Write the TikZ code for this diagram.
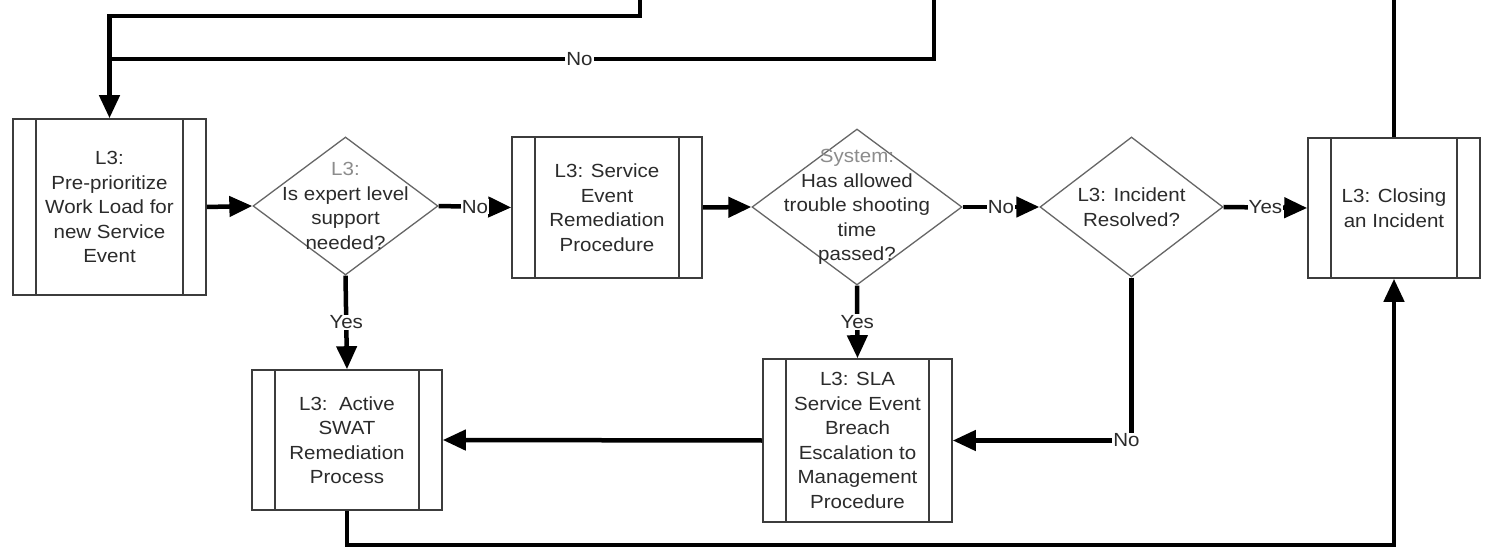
\documentclass[tikz,border=0pt]{standalone}
\usepackage{fontspec}
\setmainfont{Liberation Sans}[FakeStretch=1.08]
\usetikzlibrary{arrows.meta,shapes.geometric}
\definecolor{txt}{HTML}{2B2B2B}
\definecolor{gtxt}{HTML}{8C8C8C}
\definecolor{bord}{HTML}{3C3C3C}
\definecolor{dbord}{HTML}{666666}
\begin{document}
\begin{tikzpicture}[x=1pt,y=-1pt,
  every node/.style={font=\fontsize{19}{24.5}\selectfont, text=txt},
  proc/.style={draw=bord, line width=1.6pt, rectangle, inner sep=0pt, align=center,
    path picture={\draw[bord,line width=1.6pt]
      ([xshift=23pt]path picture bounding box.north west) -- ([xshift=23pt]path picture bounding box.south west)
      ([xshift=-23pt]path picture bounding box.north east) -- ([xshift=-23pt]path picture bounding box.south east);}},
  decis/.style={draw=dbord, line width=1.3pt, shape=diamond, inner sep=0pt},
  dtext/.style={align=center, inner sep=0pt},
  lab/.style={fill=white, inner sep=1pt},
  conn/.style={line width=4.5pt, draw=black, line join=miter},
  arr/.style={-{Triangle[length=23pt,width=20pt]}}
]
\fill[white] (0,0) rectangle (1492,548);
\useasboundingbox (0,0) rectangle (1492,548);

% process boxes
\node[proc, minimum width=193pt, minimum height=176pt] (b1) at (109.5,207)
  {L3:\\Pre-prioritize\\Work Load for\\new Service\\Event};
\node[proc, minimum width=190pt, minimum height=141pt] (b2) at (607,207.5)
  {L3: Service\\Event\\Remediation\\Procedure};
\node[proc, minimum width=190pt, minimum height=140pt] (b3) at (347,440)
  {L3:\ \ Active\\SWAT\\Remediation\\Process};
\node[proc, minimum width=189pt, minimum height=163pt] (b4) at (857.5,440.5)
  {L3: SLA\\Service Event\\Breach\\Escalation to\\Management\\Procedure};
\node[proc, minimum width=172pt, minimum height=140pt] (b5) at (1394,208)
  {L3: Closing\\an Incident};

% decisions
\node[decis, minimum width=185pt, minimum height=138pt] (d1) at (345.5,206) {};
\node[dtext] (d1t) at (d1.center) {\textcolor{gtxt}{L3:}\\Is expert level\\support\\needed?};
\node[decis, minimum width=210pt, minimum height=156pt] (d2) at (857,207) {};
\node[dtext] (d2t) at (d2.center) {\textcolor{gtxt}{System:}\\Has allowed\\trouble shooting\\time\\passed?};
\node[decis, minimum width=183pt, minimum height=140pt] (d3) at (1131.5,207) {};
\node[dtext] (d3t) at (d3.center) {L3: Incident\\Resolved?};

% off-page coordinates
\coordinate (tA) at (640,0);
\coordinate (tB) at (934,0);
\coordinate (tC) at (1394,0);

% connectors
\draw[conn,arr] (tA) |- (b1.north |- 0,16) -- (b1.north);
\draw[conn] (tB) -- (tB |- 0,59) -- node[lab,pos=0.43] {No} (b1.north |- 0,59);
\draw[conn] (b5.north) -- (tC);

\draw[conn,arr] (b1.east) -- (d1.west);
\draw[conn,arr] (d1.east) -- node[lab] {No} (b2.west);
\draw[conn,arr] (b2.east) -- (d2.west);
\draw[conn,arr] (d2.east) -- node[lab] {No} (d3.west);
\draw[conn,arr] (d3.east) -- node[lab] {Yes} (b5.west);

\draw[conn,arr] (d1.south) -- node[lab] {Yes} (b3.north);
\draw[conn,arr] (d2.south) -- node[lab] {Yes} (b4.north);
\draw[conn,arr] (d3.south) |- node[lab,pos=0.5,xshift=-5pt] {No} (b4.east);
\draw[conn,arr] (b4.west) -- (b3.east);
\draw[conn,arr] (b3.south) -- (b3.south |- 0,545) -| (b5.south);
\end{tikzpicture}
\end{document}
